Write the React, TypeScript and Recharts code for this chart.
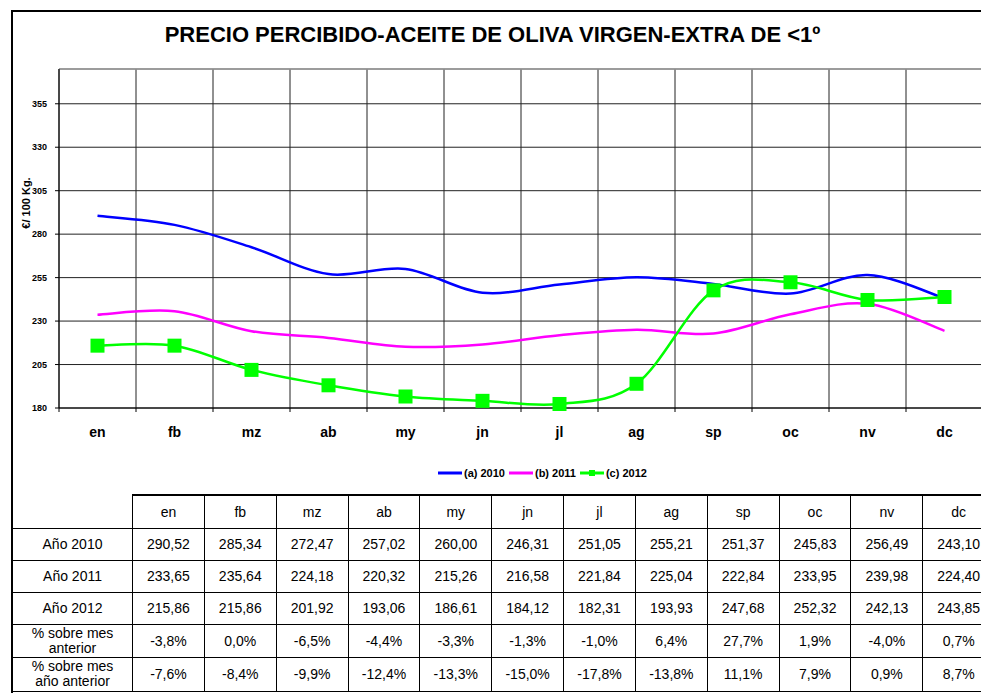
import React from 'react';
import { LineChart, Line, XAxis, YAxis, CartesianGrid, Legend, ReferenceLine } from 'recharts';

const MONTHS = ['en', 'fb', 'mz', 'ab', 'my', 'jn', 'jl', 'ag', 'sp', 'oc', 'nv', 'dc'];
const PRICES_2010 = [290.52, 285.34, 272.47, 257.02, 260.0, 246.31, 251.05, 255.21, 251.37, 245.83, 256.49, 243.1];
const PRICES_2011 = [233.65, 235.64, 224.18, 220.32, 215.26, 216.58, 221.84, 225.04, 222.84, 233.95, 239.98, 224.4];
const PRICES_2012 = [215.86, 215.86, 201.92, 193.06, 186.61, 184.12, 182.31, 193.93, 247.68, 252.32, 242.13, 243.85];
const PCT_PREV_MONTH = [-3.8, 0.0, -6.5, -4.4, -3.3, -1.3, -1.0, 6.4, 27.7, 1.9, -4.0, 0.7];
const PCT_PREV_YEAR = [-7.6, -8.4, -9.9, -12.4, -13.3, -15.0, -17.8, -13.8, 11.1, 7.9, 0.9, 8.7];
const Y_TICKS = [180, 205, 230, 255, 280, 305, 330, 355];
const Y_MAX = 375;

const FONT = '"Liberation Sans", Arial, sans-serif';

const SERIES = [
  { key: 'a', name: '(a) 2010', color: '#0000ff', marker: false },
  { key: 'b', name: '(b) 2011', color: '#ff00ff', marker: false },
  { key: 'c', name: '(c) 2012', color: '#00ff00', marker: true },
];

const chartData = MONTHS.map((m, i) => ({
  month: m,
  a: PRICES_2010[i],
  b: PRICES_2011[i],
  c: PRICES_2012[i],
}));

const fmtPrice = (v: number) => v.toFixed(2).replace('.', ',');
const fmtPct = (v: number) => v.toFixed(1).replace('.', ',') + '%';

const TABLE_ROWS = [
  { label: ['Año 2010'], cells: PRICES_2010.map(fmtPrice), h: 32 },
  { label: ['Año 2011'], cells: PRICES_2011.map(fmtPrice), h: 32 },
  { label: ['Año 2012'], cells: PRICES_2012.map(fmtPrice), h: 32 },
  { label: ['% sobre mes', 'anterior'], cells: PCT_PREV_MONTH.map(fmtPct), h: 33 },
  { label: ['% sobre mes', 'año anterior'], cells: PCT_PREV_YEAR.map(fmtPct), h: 34 },
];

// Excel-like smoothed line (Catmull-Rom through the points)
const excelCurve = (context: any) => {
  let pts: [number, number][] = [];
  return {
    areaStart() {},
    areaEnd() {},
    lineStart() {
      pts = [];
    },
    lineEnd() {
      if (!pts.length) return;
      context.moveTo(pts[0][0], pts[0][1]);
      for (let i = 0; i < pts.length - 1; i++) {
        const p0 = pts[Math.max(i - 1, 0)];
        const p1 = pts[i];
        const p2 = pts[i + 1];
        const p3 = pts[Math.min(i + 2, pts.length - 1)];
        context.bezierCurveTo(
          p1[0] + (p2[0] - p0[0]) / 6,
          p1[1] + (p2[1] - p0[1]) / 6,
          p2[0] - (p3[0] - p1[0]) / 6,
          p2[1] - (p3[1] - p1[1]) / 6,
          p2[0],
          p2[1]
        );
      }
    },
    point(x: number, y: number) {
      pts.push([x, y]);
    },
  };
};

const SquareDot = (props: any) => {
  const { cx, cy, stroke } = props;
  if (cx == null || cy == null) return null;
  return <rect x={cx - 7} y={cy - 7} width={14} height={14} fill={stroke} />;
};

const MonthTick = (props: any) => {
  const { x, y, payload, width, visibleTicksCount } = props;
  const band = (width || 924) / (visibleTicksCount || MONTHS.length);
  const axisY = y - 24;
  return (
    <g>
      <line x1={x - band / 2} y1={axisY} x2={x - band / 2} y2={axisY + 4} stroke="#000" />
      <text x={x} y={y} dy="0.35em" textAnchor="middle" fontSize={14} fontWeight="bold" fontFamily={FONT} fill="#000">
        {payload.value}
      </text>
    </g>
  );
};

const renderLegend = () => (
  <div style={{ display: 'flex', alignItems: 'center', fontFamily: FONT, fontSize: 11, fontWeight: 'bold' }}>
    {SERIES.map((s) => (
      <div key={s.key} style={{ display: 'flex', alignItems: 'center', marginRight: 4 }}>
        <svg width={24} height={10}>
          <line x1={0} y1={5} x2={24} y2={5} stroke={s.color} strokeWidth={3} />
          {s.marker && <rect x={9} y={2} width={6} height={6} fill={s.color} />}
        </svg>
        <span style={{ marginLeft: 2 }}>{s.name}</span>
      </div>
    ))}
  </div>
);

const cellBorder = '1px solid #000';

const App: React.FC = () => {
  return (
    <div style={{ position: 'fixed', left: 0, top: 0, width: 981, height: 693, overflow: 'hidden', background: '#fff' }}>
      <style>{'html, body { margin: 0; overflow: hidden; }'}</style>
      {/* chart frame: right and bottom edges fall outside the page */}
      <div
        style={{
          position: 'absolute',
          left: 11,
          top: 10,
          width: 990,
          height: 700,
          borderLeft: '2px solid #000',
          borderTop: '2px solid #000',
        }}
      />
      <div
        style={{
          position: 'absolute',
          left: 0,
          top: 23,
          width: 985,
          textAlign: 'center',
          fontFamily: FONT,
          fontSize: 22,
          fontWeight: 'bold',
          lineHeight: '24px',
        }}
      >
        PRECIO PERCIBIDO-ACEITE DE OLIVA VIRGEN-EXTRA DE &lt;1º
      </div>
      <div style={{ position: 'absolute', left: 0, top: 0 }}>
        <LineChart width={990} height={470} data={chartData} margin={{ top: 69, right: 7, bottom: 0, left: 9 }}>
          <CartesianGrid
            stroke="#222"
            horizontal
            vertical
            verticalCoordinatesGenerator={({ offset }: any) =>
              MONTHS.map((_, i) => offset.left + (i * offset.width) / MONTHS.length)
            }
          />
          <ReferenceLine y={Y_MAX} stroke="#a0a0a0" strokeWidth={1.5} />
          <XAxis
            dataKey="month"
            scale="band"
            height={62}
            axisLine={{ stroke: '#000' }}
            tickLine={false}
            tickSize={0}
            tickMargin={24}
            interval={0}
            tick={<MonthTick />}
          />
          <YAxis
            domain={[Y_TICKS[0], Y_MAX]}
            ticks={Y_TICKS}
            width={50}
            axisLine={{ stroke: '#000' }}
            tickLine={{ stroke: '#000' }}
            tickSize={4}
            tickMargin={8}
            tick={{ fontSize: 9, fontWeight: 'bold', fill: '#000', fontFamily: FONT }}
            label={{
              content: () => (
                <text
                  x={30}
                  y={203}
                  transform="rotate(-90 30 203)"
                  textAnchor="middle"
                  fontSize={11}
                  fontWeight="bold"
                  fontFamily={FONT}
                  fill="#000"
                >
                  €/ 100 Kg.
                </text>
              ),
            }}
          />
          <Legend
            layout="horizontal"
            verticalAlign="middle"
            align="center"
            content={renderLegend}
            wrapperStyle={{ position: 'absolute', left: 438, top: 467, width: 'auto', height: 'auto' }}
          />
          {SERIES.map((s) => (
            <Line
              key={s.key}
              dataKey={s.key}
              name={s.name}
              type={excelCurve as any}
              stroke={s.color}
              strokeWidth={2.5}
              dot={s.marker ? <SquareDot /> : false}
              activeDot={false}
              isAnimationActive={false}
            />
          ))}
        </LineChart>
      </div>
      <table
        style={{
          position: 'absolute',
          left: 12,
          top: 494,
          borderCollapse: 'collapse',
          tableLayout: 'fixed',
          width: 120 + 71.85 * 12,
          fontFamily: FONT,
          fontSize: 14,
          color: '#000',
        }}
      >
        <colgroup>
          <col style={{ width: 120 }} />
          {MONTHS.map((m) => (
            <col key={m} style={{ width: 71.85 }} />
          ))}
        </colgroup>
        <tbody>
          <tr style={{ height: 33 }}>
            <td style={{ padding: 0, borderBottom: cellBorder }} />
            {MONTHS.map((m) => (
              <td
                key={m}
                style={{ padding: 0, textAlign: 'center', borderTop: '2px solid #000', borderLeft: cellBorder, borderRight: cellBorder, borderBottom: cellBorder }}
              >
                {m}
              </td>
            ))}
          </tr>
          {TABLE_ROWS.map((row) => (
            <tr key={row.label.join(' ')} style={{ height: row.h }}>
              <td style={{ padding: 0, textAlign: 'center', border: cellBorder, lineHeight: '15px' }}>
                {row.label.map((l, i) => (
                  <div key={i}>{l}</div>
                ))}
              </td>
              {row.cells.map((c, i) => (
                <td key={i} style={{ padding: 0, textAlign: 'center', border: cellBorder }}>
                  {c}
                </td>
              ))}
            </tr>
          ))}
        </tbody>
      </table>
    </div>
  );
};

export default App;
